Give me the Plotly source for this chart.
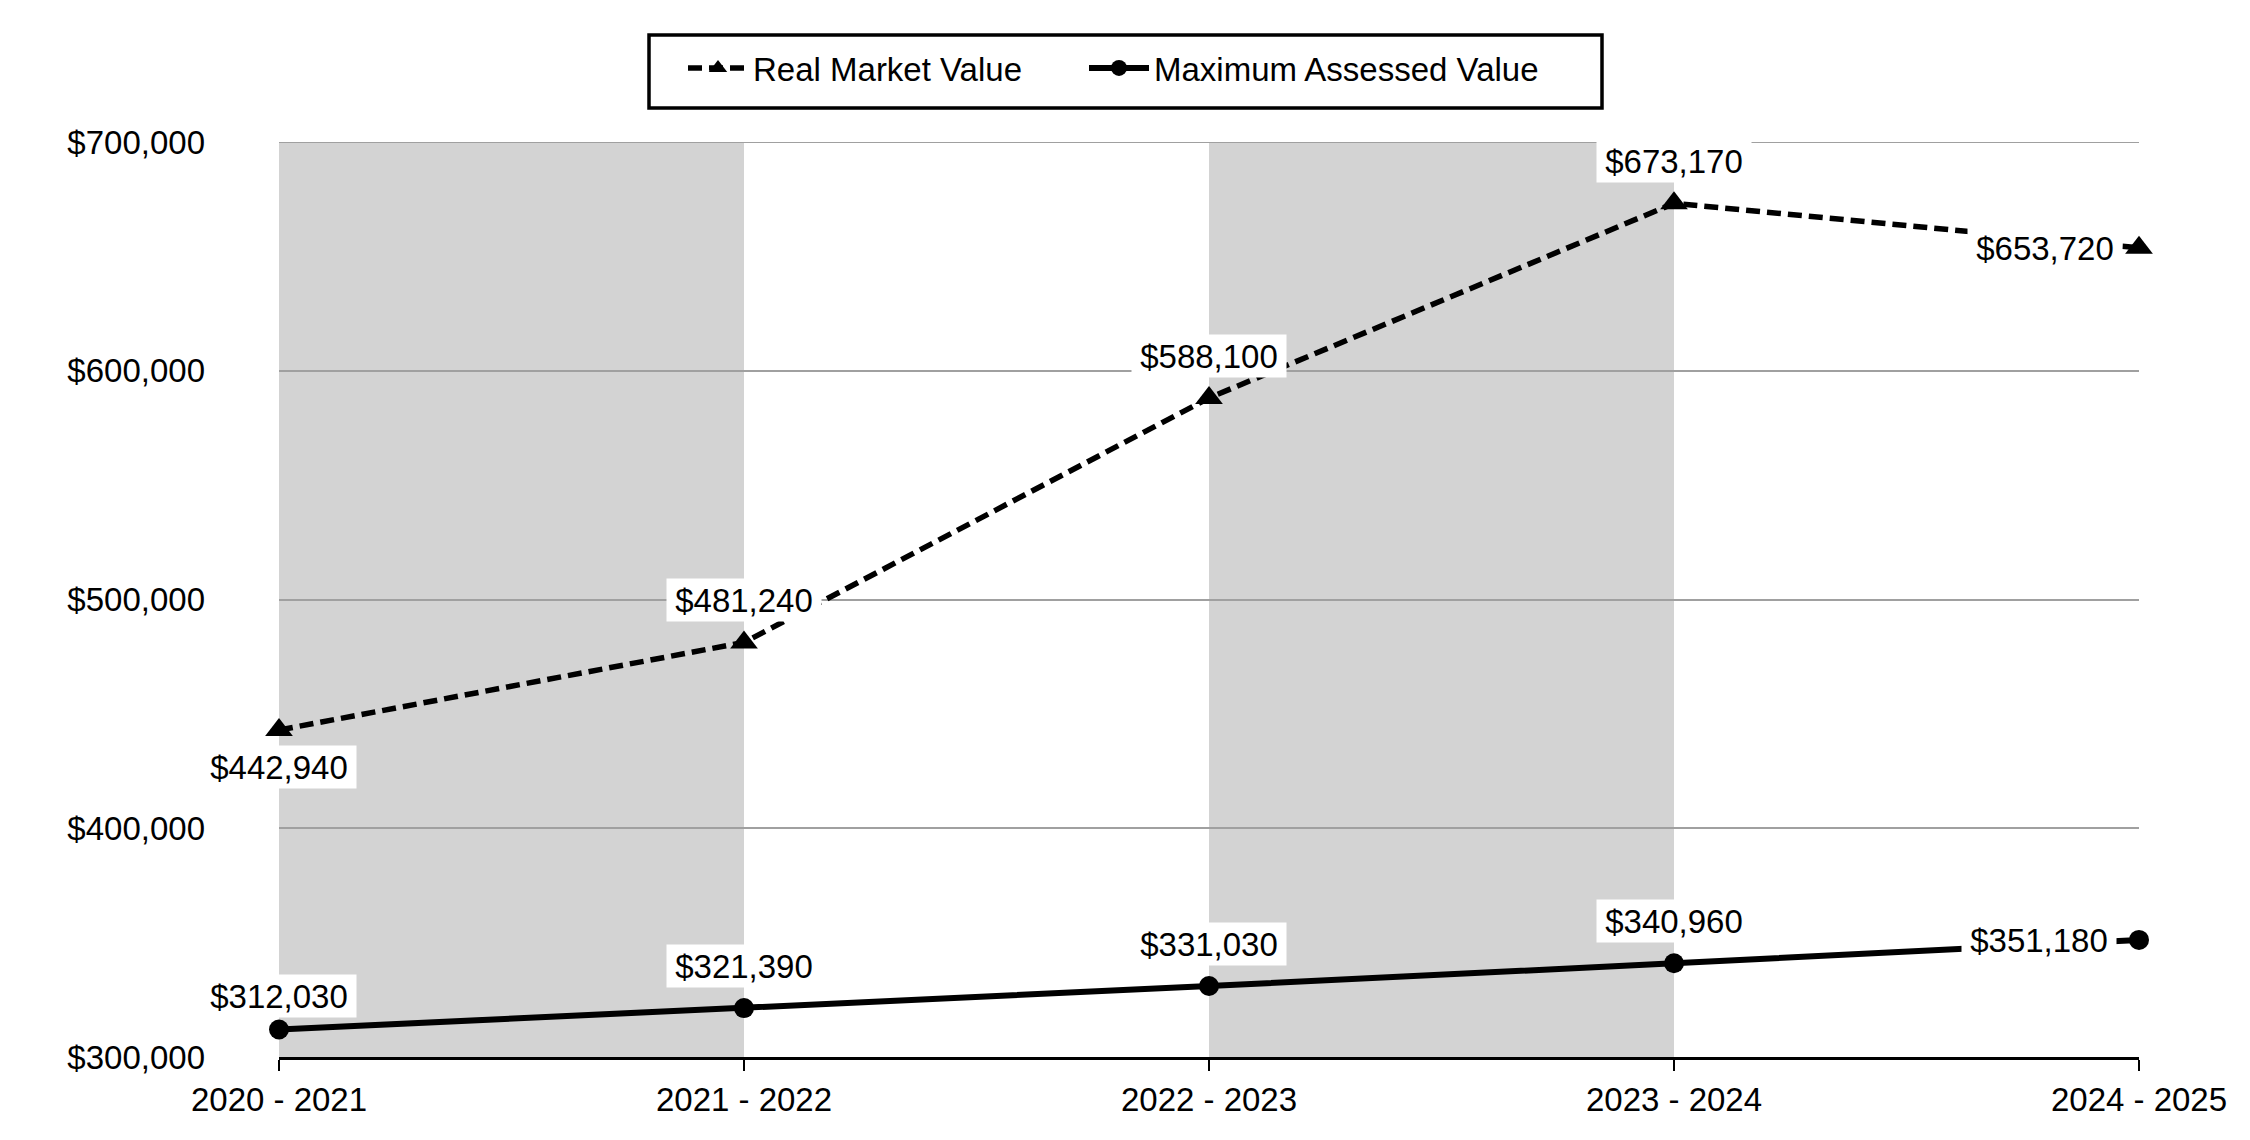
import plotly.graph_objects as go

# ---- data ----
years = ["2020 - 2021", "2021 - 2022", "2022 - 2023", "2023 - 2024", "2024 - 2025"]
real_market_value = [442940, 481240, 588100, 673170, 653720]
max_assessed_value = [312030, 321390, 331030, 340960, 351180]
rmv_label_pos = ["below", "above", "above", "above", "left"]
mav_label_pos = ["above", "above", "above", "above", "left"]
rmv_label_gap = [15, 20, 20, 20, 16]
mav_label_gap = [11, 20, 20, 20, 22]
shaded_spans = [(0, 1), (2, 3)]  # category index spans with gray background
y_ticks = [300000, 400000, 500000, 600000, 700000]
y_tick_text = ["$300,000", "$400,000", "$500,000", "$600,000", "$700,000"]

FONT = "Liberation Sans, Arial, sans-serif"
FS = 33
W, H = 2250, 1140
BODY = 8  # default page margin of the html body
ML, MR, MT, MB = 279 - BODY, 111 + BODY, 142 - BODY, 83 + BODY

fig = go.Figure()

fig.add_trace(go.Scatter(
    x=years, y=real_market_value, name="Real Market Value",
    mode="lines+markers",
    line=dict(color="black", width=5.5, dash="14px,7px"),
    marker=dict(symbol="triangle-up", size=24, color="black"),
    cliponaxis=False, hoverinfo="skip",
))
fig.add_trace(go.Scatter(
    x=years, y=max_assessed_value, name="Maximum Assessed Value",
    mode="lines+markers",
    line=dict(color="black", width=6),
    marker=dict(symbol="circle", size=20, color="black"),
    cliponaxis=False, hoverinfo="skip",
))
# empty spacer entry so the fixed-width legend does not clip the last name
fig.add_trace(go.Scatter(
    x=[None], y=[None], name=" ", mode="lines",
    line=dict(width=0, color="rgba(0,0,0,0)"),
    showlegend=True, hoverinfo="skip",
))

# shaded alternating bands
for a, b in shaded_spans:
    fig.add_shape(type="rect", xref="x", yref="paper",
                  x0=a, x1=b, y0=0, y1=1,
                  fillcolor="#d3d3d3", line=dict(width=0), layer="below")

# top gridline (plotly omits the one on the range edge)
fig.add_shape(type="line", xref="paper", yref="y",
              x0=0, x1=1, y0=y_ticks[-1], y1=y_ticks[-1],
              line=dict(color="#a0a0a0", width=2), layer="below")

# legend frame
pw = W - ML - MR
ph = H - MT - MB
lx0, lx1, ly0, ly1 = 649 - BODY, 1602 - BODY, 35 - BODY, 108 - BODY
fig.add_shape(type="rect", xref="paper", yref="paper",
              x0=(lx0 - ML) / pw, x1=(lx1 - ML) / pw,
              y0=1 + (MT - ly1) / ph, y1=1 + (MT - ly0) / ph,
              line=dict(color="black", width=3.5), fillcolor="white",
              layer="above")

def add_labels(values, positions, gaps):
    for i, (v, p, g) in enumerate(zip(values, positions, gaps)):
        kw = dict(x=years[i], y=v, xref="x", yref="y",
                  text=f"${v:,}", showarrow=False,
                  font=dict(family=FONT, size=FS, color="black"),
                  bgcolor="white", borderpad=1, width=152, height=40)
        if p == "above":
            kw.update(yanchor="bottom", xanchor="center", yshift=g)
        elif p == "below":
            kw.update(yanchor="top", xanchor="center", yshift=-g)
        else:
            kw.update(yanchor="middle", xanchor="right", xshift=-g)
        fig.add_annotation(**kw)

add_labels(real_market_value, rmv_label_pos, rmv_label_gap)
add_labels(max_assessed_value, mav_label_pos, mav_label_gap)

fig.update_layout(
    width=W, height=H,
    margin=dict(l=ML, r=MR, t=MT, b=MB),
    paper_bgcolor="white", plot_bgcolor="white",
    font=dict(family=FONT, size=FS, color="black"),
    showlegend=True,
    legend=dict(
        orientation="h", xref="container", yref="container",
        x=(683 - BODY) / W, xanchor="left",
        y=1 - (68 - BODY) / H, yanchor="middle",
        borderwidth=0, bgcolor="rgba(0,0,0,0)",
        font=dict(family=FONT, size=FS, color="black"),
        itemwidth=60, entrywidth=326, entrywidthmode="pixels",
        itemclick=False, itemdoubleclick=False,
    ),
    xaxis=dict(
        type="category", range=[0, len(years) - 1],
        showgrid=False, zeroline=False,
        showline=True, linecolor="black", linewidth=3,
        ticks="outside", ticklen=11, tickwidth=2, tickcolor="black",
        tickfont=dict(family=FONT, size=FS, color="black"),
    ),
    yaxis=dict(
        range=[y_ticks[0], y_ticks[-1]],
        tickmode="array", tickvals=y_ticks, ticktext=y_tick_text,
        showgrid=True, gridcolor="#a0a0a0", gridwidth=2,
        zeroline=False, showline=False, ticks="",
        ticklabelstandoff=73,
        tickfont=dict(family=FONT, size=FS, color="black"),
    ),
)

fig.write_html("out.html")
